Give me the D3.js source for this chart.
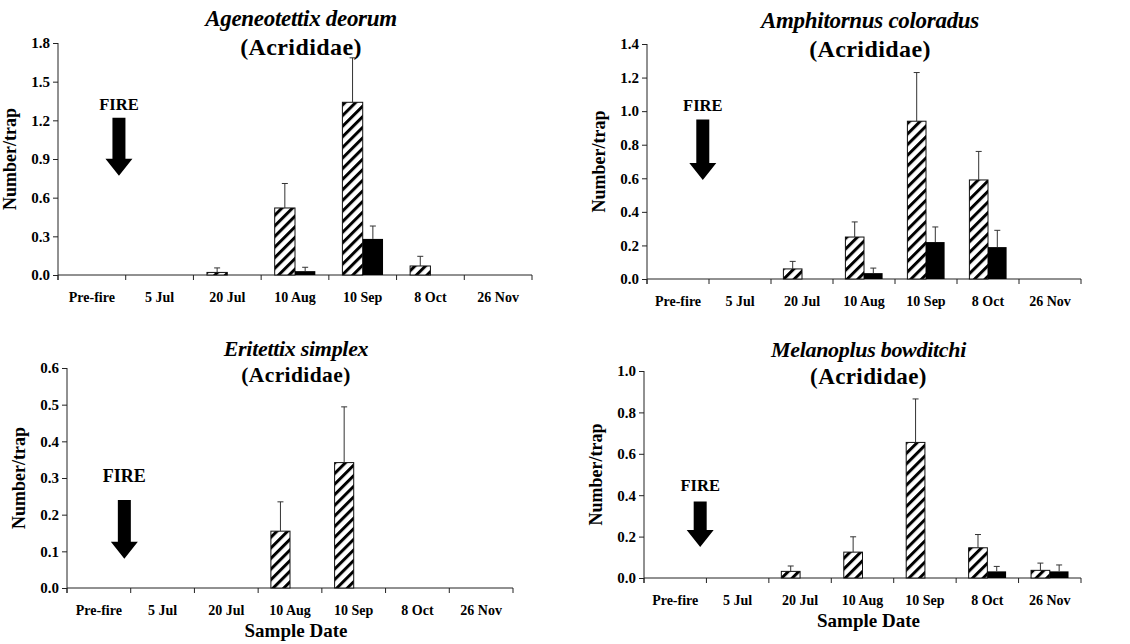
<!DOCTYPE html>
<html>
<head>
<meta charset="utf-8">
<script src="https://cdn.jsdelivr.net/npm/d3@7"></script>
<style>
  body { margin: 0; background: #fff; }
  svg { display: block; }
  text { font-family: "Liberation Serif", "Times New Roman", serif; font-weight: bold; fill: #000; }
</style>
</head>
<body>
<svg id="chart" width="1130" height="644"></svg>
<script>
// sample dates (x categories)
const dates = ["Pre-fire", "5 Jul", "20 Jul", "10 Aug", "10 Sep", "8 Oct", "26 Nov"];

// species titles
const species = ["Ageneotettix deorum", "Amphitornus coloradus", "Eritettix simplex", "Melanoplus bowditchi"];
const family = "(Acrididae)";

// mean number/trap, hatched series
const hatchMean = [
  [0, 0, 0.02, 0.52, 1.34, 0.07, 0],
  [0, 0, 0.06, 0.25, 0.94, 0.59, 0],
  [0, 0, 0, 0.155, 0.342, 0, 0],
  [0, 0, 0.032, 0.125, 0.655, 0.146, 0.037]
];
// standard errors, hatched series
const hatchSE = [
  [0, 0, 0.035, 0.19, 0.345, 0.075, 0],
  [0, 0, 0.045, 0.09, 0.29, 0.17, 0],
  [0, 0, 0, 0.08, 0.152, 0, 0],
  [0, 0, 0.026, 0.074, 0.21, 0.064, 0.035]
];
// mean number/trap, solid series
const solidMean = [
  [0, 0, 0, 0.03, 0.28, 0, 0],
  [0, 0, 0, 0.035, 0.22, 0.19, 0],
  [0, 0, 0, 0, 0, 0, 0],
  [0, 0, 0, 0, 0, 0.032, 0.032]
];
// standard errors, solid series
const solidSE = [
  [0, 0, 0, 0.03, 0.10, 0, 0],
  [0, 0, 0, 0.03, 0.09, 0.10, 0],
  [0, 0, 0, 0, 0, 0, 0],
  [0, 0, 0, 0, 0, 0.024, 0.031]
];

// y axis maximum and tick step per panel
const yMax = [1.8, 1.4, 0.6, 1.0];
const yStep = [0.3, 0.2, 0.1, 0.2];

// FIRE arrow: label value, arrow top value, arrow tip value
const fireLabel = [1.28, 1.0, 0.29, 0.42];
const fireTop = [1.22, 0.95, 0.24, 0.37];
const fireTip = [0.77, 0.59, 0.08, 0.15];

// panel boxes (pixel layout)
const boxes = [
  { x0: 58, x1: 532, yTop: 43, yBot: 275, titleY: 26, famY: 55, tSize: 23, fSize: 24, fire: 16.5, showX: false },
  { x0: 647, x1: 1081, yTop: 44, yBot: 279, titleY: 28, famY: 57, tSize: 23, fSize: 24, fire: 16.5, showX: false },
  { x0: 67, x1: 513, yTop: 368, yBot: 588, titleY: 356, famY: 382, tSize: 22, fSize: 21.5, fire: 18, showX: true },
  { x0: 644, x1: 1081, yTop: 371, yBot: 578, titleY: 357, famY: 384, tSize: 22, fSize: 23, fire: 16.5, showX: true }
];

const svg = d3.select("#chart");

// diagonal hatch fill
const defs = svg.append("defs");
const pat = defs.append("pattern")
  .attr("id", "hatch")
  .attr("patternUnits", "userSpaceOnUse")
  .attr("width", 7.5)
  .attr("height", 7.5)
  .attr("patternTransform", "rotate(45)");
pat.append("rect").attr("width", 7.5).attr("height", 7.5).attr("fill", "#fff");
pat.append("rect").attr("width", 3).attr("height", 7.5).attr("fill", "#000");

function drawPanel(i) {
  const b = boxes[i];
  const g = svg.append("g").attr("class", "panel" + i);

  const x = d3.scaleBand().domain(dates).range([b.x0, b.x1]);
  const y = d3.scaleLinear().domain([0, yMax[i]]).range([b.yBot, b.yTop]);
  const bw = x.bandwidth() * 0.3;

  // y axis
  const yTicks = d3.range(0, yMax[i] + 1e-9, yStep[i]);
  const yAxis = g.append("g")
    .attr("transform", `translate(${b.x0},0)`)
    .call(d3.axisLeft(y).tickValues(yTicks).tickFormat(d3.format(".1f")).tickSize(5).tickPadding(3));
  yAxis.select(".domain").attr("d", `M0,${b.yTop}V${b.yBot + 5}`).attr("stroke", "#222");
  yAxis.selectAll(".tick line").attr("stroke", "#222");
  yAxis.selectAll(".tick text").attr("font-size", 15).attr("font-family", "Liberation Serif");

  // x axis: ticks on category boundaries
  const xAxis = g.append("g").attr("transform", `translate(0,${b.yBot})`);
  xAxis.append("line")
    .attr("x1", b.x0).attr("x2", b.x1)
    .attr("stroke", "#222");
  const edges = dates.map(d => x(d)).concat([b.x1]);
  xAxis.selectAll("line.tk").data(edges).enter().append("line")
    .attr("class", "tk")
    .attr("x1", d => d).attr("x2", d => d)
    .attr("y1", 0).attr("y2", 5)
    .attr("stroke", "#222");
  xAxis.selectAll("text").data(dates).enter().append("text")
    .attr("x", d => x(d) + x.bandwidth() / 2)
    .attr("y", 27)
    .attr("text-anchor", "middle")
    .attr("font-size", 14)
    .text(d => d);

  // bars
  const rows = dates.map((d, j) => ({
    date: d, hm: hatchMean[i][j], hs: hatchSE[i][j], sm: solidMean[i][j], ss: solidSE[i][j]
  }));
  const cx = d => x(d.date) + x.bandwidth() / 2;

  g.selectAll("rect.hb").data(rows.filter(r => r.hm > 0)).enter().append("rect")
    .attr("class", "hb")
    .attr("x", d => cx(d) - bw)
    .attr("width", bw)
    .attr("y", d => y(d.hm))
    .attr("height", d => y(0) - y(d.hm))
    .attr("fill", "url(#hatch)")
    .attr("stroke", "#111")
    .attr("stroke-width", 1);

  g.selectAll("rect.sb").data(rows.filter(r => r.sm > 0)).enter().append("rect")
    .attr("class", "sb")
    .attr("x", d => cx(d))
    .attr("width", bw)
    .attr("y", d => y(d.sm))
    .attr("height", d => y(0) - y(d.sm))
    .attr("fill", "#000");

  // error bars
  const errs = [];
  rows.forEach(r => {
    if (r.hm > 0 && r.hs > 0) errs.push({ x: cx(r) - bw / 2, lo: r.hm, hi: r.hm + r.hs });
    if (r.sm > 0 && r.ss > 0) errs.push({ x: cx(r) + bw / 2, lo: r.sm, hi: r.sm + r.ss });
  });
  const eg = g.selectAll("g.err").data(errs).enter().append("g").attr("class", "err");
  eg.append("line")
    .attr("x1", d => d.x).attr("x2", d => d.x)
    .attr("y1", d => y(d.lo)).attr("y2", d => y(d.hi))
    .attr("stroke", "#333");
  eg.append("line")
    .attr("x1", d => d.x - 3).attr("x2", d => d.x + 3)
    .attr("y1", d => y(d.hi)).attr("y2", d => y(d.hi))
    .attr("stroke", "#333");

  // FIRE arrow
  const ax = x(dates[0]) + x.bandwidth() * 0.9;
  g.append("text")
    .attr("x", ax).attr("y", y(fireLabel[i]))
    .attr("text-anchor", "middle")
    .attr("font-size", b.fire)
    .text("FIRE");
  const top = y(fireTop[i]), tip = y(fireTip[i]), head = 17;
  g.append("path")
    .attr("d", `M${ax - 6.5},${top}H${ax + 6.5}V${tip - head}H${ax + 13.5}L${ax},${tip}L${ax - 13.5},${tip - head}H${ax - 6.5}Z`)
    .attr("fill", "#000");

  // titles
  const mid = (b.x0 + b.x1) / 2 + 6;
  g.append("text")
    .attr("x", mid).attr("y", b.titleY)
    .attr("text-anchor", "middle")
    .attr("font-size", b.tSize)
    .attr("font-style", "italic")
    .attr("letter-spacing", -0.3)
    .text(species[i]);
  g.append("text")
    .attr("x", mid).attr("y", b.famY)
    .attr("text-anchor", "middle")
    .attr("font-size", b.fSize)
    .attr("letter-spacing", 0.4)
    .text(family);

  // axis titles
  g.append("text")
    .attr("transform", `translate(${b.x0 - 42},${(b.yTop + b.yBot) / 2}) rotate(-90)`)
    .attr("text-anchor", "middle")
    .attr("font-size", 18)
    .text("Number/trap");
  if (b.showX) {
    g.append("text")
      .attr("x", mid).attr("y", b.yBot + 49)
      .attr("text-anchor", "middle")
      .attr("font-size", 19)
      .text("Sample Date");
  }
}

species.forEach((s, i) => drawPanel(i));
</script>
</body>
</html>
